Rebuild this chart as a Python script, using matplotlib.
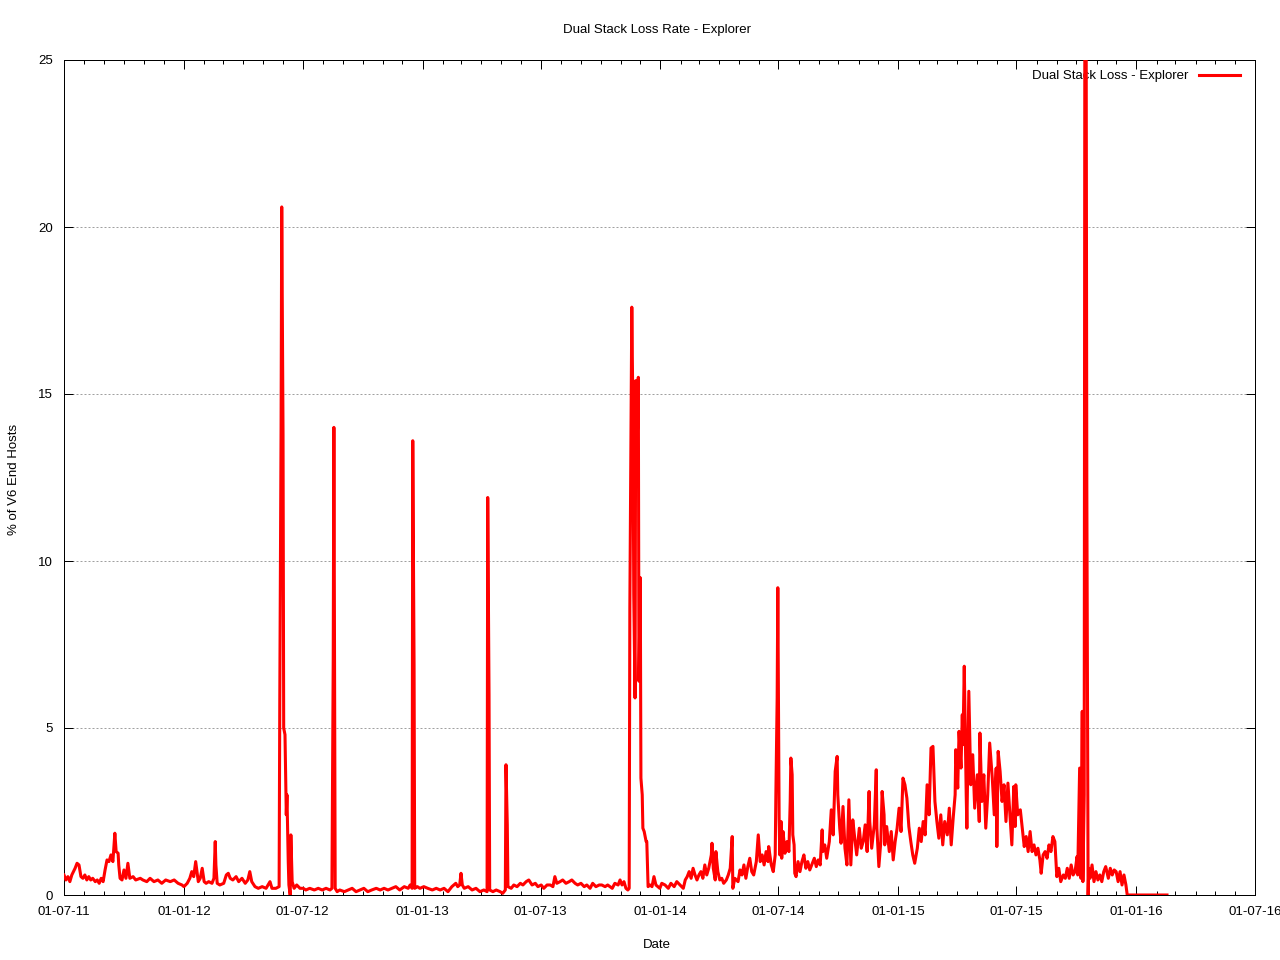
import datetime as dt
import matplotlib
matplotlib.use("Agg")
import matplotlib.pyplot as plt
import matplotlib.dates as mdates

plt.rcParams['font.family'] = ['Liberation Sans', 'DejaVu Sans']

# data: days since 2011-07-01 and loss rate (% of V6 end hosts)
start = dt.datetime(2011, 7, 1)

day_a = [0, 3, 6, 9, 12, 17, 20, 23, 26, 29, 32, 35, 38, 41, 44, 48, 51, 54, 57, 60,
         63, 66, 69, 72, 75, 78, 80, 83, 84, 86, 89, 92, 95, 98, 101, 106, 110, 117, 121, 127,
         132, 138, 144, 150, 156, 163, 169, 175, 181, 184, 189, 193, 196, 199, 202, 206, 209, 212, 215, 218,
         222, 227, 230, 232, 233, 235, 239, 245, 249, 252, 255, 259, 264, 268, 273, 278, 282, 285, 288, 293,
         298, 304, 310, 316, 319, 325, 330, 331, 333, 334, 336, 337, 339, 341, 342, 344, 345, 347, 348, 350,
         353, 357, 362]
loss_a = [0.6, 0.45, 0.55, 0.4, 0.6, 0.8, 0.95, 0.9, 0.55, 0.5, 0.6, 0.45, 0.55, 0.45, 0.5, 0.4, 0.45, 0.35, 0.5, 0.4,
          0.75, 1.05, 1.0, 1.2, 1.0, 1.85, 1.3, 1.25, 0.9, 0.5, 0.45, 0.75, 0.5, 0.95, 0.5, 0.55, 0.45, 0.5, 0.45, 0.4,
          0.5, 0.4, 0.45, 0.35, 0.45, 0.4, 0.45, 0.35, 0.3, 0.25, 0.35, 0.5, 0.7, 0.55, 1.0, 0.4, 0.5, 0.8, 0.4, 0.35,
          0.4, 0.35, 0.5, 1.6, 0.9, 0.35, 0.3, 0.35, 0.6, 0.65, 0.5, 0.45, 0.55, 0.4, 0.5, 0.35, 0.45, 0.7, 0.4, 0.25,
          0.2, 0.25, 0.2, 0.4, 0.2, 0.2, 0.25, 5.8, 14.0, 20.6, 13.8, 5.0, 4.8, 2.4, 3.0, 1.0, 0.3, 0.0, 1.8, 0.4,
          0.2, 0.3, 0.2]

day_b = [367, 371, 377, 384, 390, 396, 402, 408, 411, 413,
         414, 416, 419, 423, 430, 436, 442, 448, 454, 460,
         466, 472, 479, 485, 491, 497, 503, 509, 515, 522,
         528, 531, 534, 535, 537, 538, 542, 546, 552, 558,
         565, 571, 577, 583, 589, 595, 601, 604, 607, 609,
         611, 614, 620, 626, 632, 638, 644, 649, 650, 652,
         653, 658, 663, 669, 673, 677, 678, 680, 681, 686,
         690, 695, 700, 704, 709, 713, 718, 723, 727, 732,
         736, 741, 746, 750, 753, 756, 761, 765, 770, 775,
         779, 784, 788, 793, 798, 802, 807, 811, 816, 821,
         825, 830, 834, 841, 845, 850, 853, 856, 859, 862,
         865, 867, 868, 871, 873, 874, 876, 877, 879, 881,
         882, 884, 885, 887, 888, 890, 893, 894, 896, 899,
         902, 905, 908, 911]
loss_b = [0.2, 0.15, 0.2, 0.15, 0.2, 0.15, 0.2, 0.15, 0.2, 7.1,
          14.0, 0.2, 0.1, 0.15, 0.1, 0.15, 0.2, 0.1, 0.15, 0.2,
          0.1, 0.15, 0.2, 0.15, 0.2, 0.15, 0.2, 0.25, 0.15, 0.25,
          0.2, 0.3, 0.2, 13.6, 6.9, 0.2, 0.25, 0.2, 0.25, 0.2,
          0.15, 0.2, 0.15, 0.2, 0.1, 0.25, 0.35, 0.25, 0.3, 0.65,
          0.3, 0.2, 0.25, 0.15, 0.2, 0.1, 0.15, 0.1, 11.9, 6.0,
          0.15, 0.1, 0.15, 0.1, 0.05, 0.15, 3.9, 2.1, 0.25, 0.2,
          0.3, 0.25, 0.35, 0.3, 0.4, 0.45, 0.3, 0.35, 0.25, 0.3,
          0.2, 0.3, 0.3, 0.25, 0.55, 0.35, 0.4, 0.45, 0.35, 0.4,
          0.45, 0.35, 0.3, 0.35, 0.25, 0.3, 0.2, 0.35, 0.25, 0.3,
          0.3, 0.25, 0.3, 0.2, 0.35, 0.3, 0.45, 0.3, 0.4, 0.2,
          0.15, 0.2, 8.6, 17.6, 13.9, 9.0, 5.9, 15.4, 13.0, 15.5,
          6.4, 9.5, 3.5, 3.0, 2.0, 1.9, 1.6, 1.6, 0.25, 0.3,
          0.25, 0.55, 0.3, 0.25]

day_c = [914, 917, 922, 927, 931, 936, 940, 945, 950, 953,
         956, 959, 962, 965, 968, 971, 974, 977, 980, 983,
         986, 989, 993, 994, 996, 999, 1000, 1003, 1006, 1009,
         1012, 1016, 1019, 1022, 1025, 1026, 1029, 1034, 1037, 1040,
         1043, 1046, 1049, 1052, 1055, 1058, 1062, 1065, 1068, 1071,
         1074, 1077, 1080, 1081, 1085, 1088, 1091, 1092, 1094, 1095,
         1097, 1098]
loss_c = [0.2, 0.35, 0.3, 0.2, 0.35, 0.25, 0.4, 0.3, 0.2, 0.45,
          0.55, 0.7, 0.5, 0.8, 0.6, 0.45, 0.6, 0.7, 0.5, 0.9,
          0.6, 0.8, 1.2, 1.55, 0.8, 0.45, 1.3, 0.7, 0.45, 0.5,
          0.35, 0.45, 0.6, 0.8, 1.75, 0.2, 0.5, 0.4, 0.75, 0.6,
          0.9, 0.5, 0.85, 1.1, 0.7, 0.6, 1.0, 1.8, 1.0, 1.2,
          0.9, 1.3, 1.0, 1.45, 0.9, 0.7, 1.2, 3.0, 5.9, 9.2,
          2.3, 1.2]

day_d = [1100, 1101, 1103, 1106, 1109, 1112, 1114, 1115, 1117, 1118,
         1120, 1121, 1123, 1126, 1129, 1132, 1135, 1138, 1141, 1144,
         1147, 1151, 1154, 1157, 1160, 1163, 1164, 1167, 1170, 1174,
         1177, 1180, 1183, 1186, 1187, 1190, 1192, 1195, 1198, 1201,
         1204, 1206, 1207, 1210, 1213, 1216, 1220, 1223, 1226, 1229,
         1232, 1235, 1236, 1239, 1243, 1246, 1247, 1250, 1253, 1255,
         1258, 1259, 1262, 1266, 1269, 1272, 1275, 1278, 1281, 1284,
         1287, 1290, 1293, 1296, 1299, 1302, 1305, 1309, 1312, 1315,
         1318, 1321, 1324, 1327, 1330, 1333, 1336, 1339, 1342, 1345,
         1348, 1351, 1355, 1358, 1361, 1364, 1367, 1368, 1371, 1373,
         1376, 1378, 1379, 1381, 1384, 1385, 1388, 1391, 1394, 1397,
         1401, 1404, 1405, 1408, 1411, 1414, 1417, 1420, 1424, 1427,
         1430, 1431, 1433, 1436, 1439, 1442, 1445, 1448, 1451, 1454,
         1457, 1459, 1460, 1463, 1467, 1470, 1473, 1476, 1479, 1482,
         1485, 1488, 1491, 1494, 1497, 1499, 1502, 1505, 1508, 1511,
         1514, 1517, 1520, 1523, 1526, 1529, 1533, 1536, 1539, 1542,
         1545, 1548, 1551, 1554, 1555, 1558, 1560, 1562, 1563, 1565,
         1566, 1568, 1569, 1571, 1572, 1574, 1577, 1580, 1583, 1586,
         1589, 1592, 1595, 1598, 1602, 1605, 1608, 1611, 1614, 1617,
         1620, 1623, 1626, 1629, 1631, 1692]
loss_d = [2.2, 1.1, 1.9, 1.25, 1.6, 1.3, 2.8, 4.1, 3.6, 1.8,
          1.5, 0.65, 0.55, 1.0, 0.7, 1.0, 1.2, 0.8, 1.0, 0.75,
          0.9, 1.1, 0.85, 1.05, 0.9, 1.95, 1.3, 1.5, 1.1, 1.6,
          2.55, 1.8, 3.7, 4.15, 3.0, 2.0, 1.55, 2.65, 1.4, 0.9,
          2.85, 1.5, 0.9, 2.25, 1.7, 1.2, 2.0, 1.4, 1.6, 2.1,
          1.3, 3.1, 2.2, 1.4, 2.1, 3.75, 2.0, 0.85, 1.6, 3.1,
          2.4, 1.5, 2.05, 1.3, 1.9, 1.05, 1.6, 2.0, 2.6, 1.9,
          3.5, 3.3, 2.9, 2.05, 1.6, 1.2, 0.95, 1.4, 2.0, 1.6,
          2.2, 1.8, 3.3, 2.4, 4.4, 4.45, 2.8, 2.2, 1.7, 2.4,
          1.5, 2.2, 1.8, 2.6, 1.5, 2.3, 3.0, 4.35, 3.2, 4.9,
          3.8, 5.4, 4.5, 6.85, 3.0, 2.0, 6.1, 3.3, 4.2, 2.6,
          3.6, 2.2, 4.85, 2.8, 3.6, 2.0, 3.0, 4.55, 3.5, 2.4,
          3.8, 1.45, 4.3, 3.7, 2.8, 3.3, 2.2, 3.35, 2.4, 1.5,
          3.25, 2.05, 3.3, 2.4, 2.55, 2.0, 1.45, 1.75, 1.3, 1.9,
          1.3, 1.5, 1.2, 1.4, 1.05, 0.65, 1.2, 1.3, 1.1, 1.5,
          1.3, 1.75, 1.6, 0.55, 0.8, 0.4, 0.6, 0.5, 0.8, 0.5,
          0.9, 0.6, 0.7, 1.15, 0.6, 3.8, 0.5, 5.5, 0.4, 3.0,
          27.0, 26.0, 12.3, 0.0, 0.8, 0.5, 0.9, 0.4, 0.7, 0.45,
          0.6, 0.4, 0.7, 0.85, 0.5, 0.8, 0.6, 0.75, 0.7, 0.4,
          0.7, 0.3, 0.6, 0.3, 0.0, 0.0]

days = day_a + day_b + day_c + day_d
loss = loss_a + loss_b + loss_c + loss_d
dates = [start + dt.timedelta(days=d) for d in days]

fs = 9.5

fig = plt.figure(figsize=(12.8, 9.6), dpi=100)
ax = fig.add_axes([64 / 1280, 65 / 960, 1191 / 1280, 835 / 960])

line, = ax.plot(dates, loss, color='#ff0000', lw=2.2, label='Dual Stack Loss - Explorer', zorder=3)

ax.set_xlim(dt.datetime(2011, 7, 1), dt.datetime(2016, 7, 1))
ax.set_ylim(0, 25)
ax.set_yticks([0, 5, 10, 15, 20, 25])
ax.xaxis.set_major_locator(mdates.MonthLocator(bymonth=[1, 7]))
ax.xaxis.set_minor_locator(mdates.MonthLocator())
ax.xaxis.set_major_formatter(mdates.DateFormatter('%d-%m-%y'))

ax.grid(axis='y', color='#a0a0a0', lw=0.72, linestyle=(0, (2, 2)), zorder=1)
ax.tick_params(which='both', direction='in', top=True, right=True, width=0.72, labelsize=fs, pad=8)
ax.tick_params(which='major', length=6.5)
ax.tick_params(which='minor', length=3.2)
for s in ax.spines.values():
    s.set_linewidth(0.72)

leg = ax.legend(loc='upper right', frameon=False, markerfirst=False, fontsize=fs,
                handlelength=3.1, handletextpad=0.85, borderpad=0, borderaxespad=0,
                bbox_to_anchor=(0.9874, 0.988))
leg.set_zorder(2)

fig.text(657 / 1280, 1 - 30 / 960, 'Dual Stack Loss Rate - Explorer', ha='center', va='center', fontsize=fs)
fig.text(657 / 1280, 1 - 945 / 960, 'Date', ha='center', va='center', fontsize=fs)
fig.text(14 / 1280, 1 - 479 / 960, '% of V6 End Hosts', ha='center', va='center', rotation=90, fontsize=fs)

fig.savefig('out.png', dpi=100)
